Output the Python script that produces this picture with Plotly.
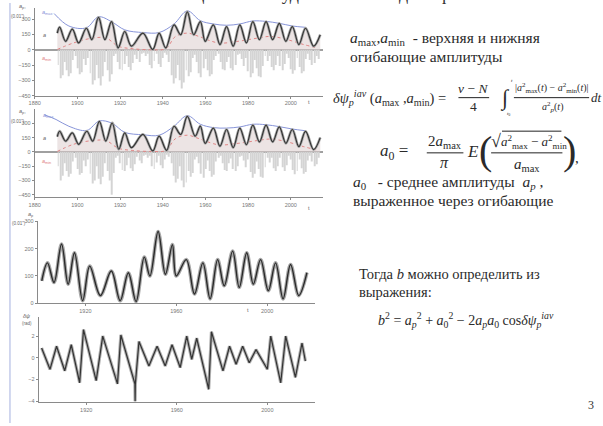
import plotly.graph_objects as go

W, H = 603, 426
def PX(x): return x / W
def PY(y): return 1 - y / H

# ---------------- DATA ----------------
# Panel 1: amplitude a_p (0.01'' ms) with envelopes
p1_years = [1890.6, 1891.7, 1894.5, 1897.6, 1900.6, 1904.2, 1906.8, 1909.9, 1912.9, 1916.0,
            1919.1, 1922.2, 1925.3, 1930.7, 1935.3, 1938.3, 1941.4, 1945.3, 1948.4, 1951.5,
            1954.5, 1957.6, 1959.9, 1963.7, 1966.8, 1969.9, 1973.0, 1976.1, 1979.2, 1982.2,
            1985.3, 1988.4, 1991.5, 1994.6, 1997.7, 2000.7, 2003.8, 2006.9, 2010.7, 2013.8]
p1_amp = [163, 221, 83, 202, 67, 211, 99, 317, 99, 275,
          19, 179, 35, 163, 3, 163, 19, 243, 147, 371,
          147, 275, 83, 243, 51, 227, 35, 243, 67, 275,
          99, 275, 99, 259, 83, 227, 51, 211, 35, 147]
p1_max_years = [1889.1, 1896.0, 1904.2, 1909.9, 1916.0, 1922.2, 1930.7, 1938.3, 1945.3, 1951.5,
                1957.6, 1963.7, 1969.9, 1976.1, 1982.2, 1988.4, 1994.6, 2000.7, 2006.9]
p1_max = [355, 233, 215, 323, 275, 195, 169, 169, 253, 381,
          285, 253, 240, 253, 282, 278, 259, 233, 220]
p1_min_years = [1890.6, 1898.2, 1907.4, 1913.5, 1919.1, 1926.0, 1935.3, 1941.4, 1946.0, 1951.5,
                1956.9, 1966.1, 1975.3, 1984.6, 1990.7, 1998.4, 2006.1, 2012.3]
p1_min = [3, 67, 115, 115, 35, 10, 0, 10, 131, 163,
          131, 67, 83, 115, 131, 99, 51, 19]
raw_years = list(range(1891, 2014))
p1_raw = [-150, -280, -250, -120, -200, -260, -230, -100, -60, -180,
          -240, -220, -90, -150, -80, -230, -340, -300, -150, -280,
          -350, -260, -120, -200, -310, -240, -60, -40, -120, -190,
          -200, -140, -60, -170, -200, -130, -50, -90, -120, -40,
          -30, -60, -40, -150, -180, -110, -40, -140, -170, -80,
          -30, -50, -120, -250, -330, -280, -150, -300, -380, -320,
          -200, -260, -220, -80, -50, -120, -230, -270, -180, -90,
          -200, -260, -240, -100, -60, -40, -120, -190, -200, -120,
          -70, -180, -200, -150, -50, -40, -90, -160, -80, -210,
          -270, -230, -100, -180, -260, -270, -160, -60, -110, -60,
          -170, -200, -150, -60, -160, -200, -140, -40, -80, -190,
          -235, -200, -80, -170, -230, -210, -90, -40, -100, -150,
          -130, -60, -90]

# Panel 2: same quantity, second estimate
p2_years = [1890.6, 1891.7, 1894.5, 1897.6, 1900.6, 1904.4, 1907.2, 1910.3, 1913.3, 1916.3,
            1919.4, 1922.2, 1925.3, 1930.7, 1935.3, 1938.3, 1941.8, 1945.3, 1948.4, 1951.5,
            1955.2, 1957.6, 1959.9, 1963.7, 1966.8, 1969.9, 1973.0, 1976.1, 1979.2, 1982.2,
            1985.3, 1988.4, 1991.5, 1994.6, 1997.7, 2000.7, 2003.8, 2006.9, 2010.7, 2013.8]
p2_amp = [160, 217, 114, 200, 80, 217, 114, 320, 114, 303,
          28, 200, 45, 183, 10, 165, 17, 269, 183, 372,
          165, 270, 90, 250, 60, 235, 45, 250, 75, 280,
          105, 280, 105, 262, 90, 235, 55, 215, 25, 150]
p2_max_years = [1884.5, 1890.0, 1896.0, 1904.4, 1910.3, 1916.3, 1922.2, 1930.7, 1938.3, 1945.3,
                1951.5, 1957.6, 1963.7, 1969.9, 1976.1, 1982.2, 1988.4, 1994.6, 2000.7, 2006.9]
p2_max = [390, 340, 269, 225, 325, 300, 205, 180, 175, 270,
          380, 290, 255, 250, 262, 290, 285, 265, 240, 222]
p2_min_years = [1890.6, 1898.2, 1907.4, 1913.5, 1919.1, 1926.0, 1935.3, 1941.4, 1946.0, 1951.5,
                1956.9, 1966.1, 1975.3, 1984.6, 1990.7, 1998.4, 2006.1, 2012.3]
p2_min = [5, 80, 120, 118, 40, 15, 5, 15, 140, 175,
          140, 75, 90, 120, 135, 105, 55, 20]
p2_raw = [-150, -300, -250, -120, -200, -260, -230, -100, -60, -180,
          -240, -220, -90, -150, -80, -230, -330, -300, -150, -280,
          -340, -260, -120, -200, -300, -450, -220, -60, -40, -120,
          -190, -200, -140, -60, -170, -200, -130, -50, -90, -120,
          -40, -30, -60, -40, -150, -180, -110, -40, -140, -170,
          -80, -30, -50, -120, -250, -320, -280, -150, -300, -370,
          -320, -200, -260, -220, -80, -50, -120, -230, -270, -180,
          -90, -200, -260, -240, -100, -60, -40, -120, -190, -200,
          -120, -70, -180, -200, -150, -50, -40, -90, -160, -80,
          -210, -270, -230, -100, -180, -260, -270, -160, -60, -110,
          -60, -170, -200, -150, -60, -160, -200, -140, -40, -80,
          -190, -235, -200, -80, -170, -230, -210, -90, -40, -100,
          -150, -130, -60]

# Panel 3: amplitude (0.01'')
p3_years = [1900.8, 1903.3, 1906.2, 1909.5, 1912.4, 1915.2, 1918.8, 1921.9, 1926.6, 1931.4,
            1935.3, 1938.9, 1942.3, 1945.9, 1948.4, 1952.0, 1955.2, 1958.3, 1960.0, 1964.4,
            1968.0, 1971.7, 1974.9, 1978.2, 1981.1, 1984.8, 1987.7, 1991.0, 1993.9, 1997.1,
            2000.5, 2003.7, 2007.0, 2010.3, 2013.9, 2017.5]
p3_amp = [82, 148, 76, 217, 70, 185, 9, 136, 28, 118,
          9, 112, 6, 169, 100, 263, 106, 215, 100, 160,
          34, 148, 16, 160, 64, 191, 58, 185, 70, 160,
          46, 148, 16, 142, 28, 112]

# Panel 4: phase δψ (rad)
p4_years = [1900.3, 1904.0, 1906.9, 1910.5, 1913.4, 1917.1, 1918.8, 1924.4, 1927.3, 1933.8,
            1935.3, 1941.5, 1941.6, 1941.7, 1943.3, 1947.7, 1951.3, 1954.9, 1957.9, 1961.5,
            1964.4, 1966.6, 1968.8, 1974.1, 1975.3, 1980.4, 1983.3, 1986.2, 1989.1, 1992.0,
            1995.0, 2000.0, 2001.5, 2005.9, 2008.1, 2012.4, 2015.3, 2016.8]
p4_phase = [0.9, -1.06, 1.06, -1.2, 1.2, -2.3, 2.6, -2.1, 2.0, -2.4,
            2.1, -2.4, -4.0, -2.4, 1.5, -0.75, 1.06, -0.75, 1.2, -0.9,
            2.0, -0.15, 1.8, -2.9, 2.4, -1.2, 1.06, -0.6, 1.06, -0.45,
            0.75, -1.06, 2.0, -2.3, 2.0, -1.8, 1.36, -0.3]

ticks_top = [1880, 1900, 1920, 1940, 1960, 1980, 2000]
ticks_bottom = [1920, 1960, 2000]
ticks_amp = [-450, -300, -150, 0, 150, 300]
ticks_p3 = [0, 100, 200, 300]
ticks_p4 = [-4, -2, 0, 2, 4]

# ---------------- FIGURE ----------------
fig = go.Figure()
GREY_BAR = "#d4d4d4"
FILL = "rgba(220,206,206,0.55)"
CURVE = "#333333"
BLUE = "#8794d8"
RED = "#e08585"

for xa, ya, yrs, amp, myrs, mx, nyrs, mn, raw in [
        ("x", "y", p1_years, p1_amp, p1_max_years, p1_max, p1_min_years, p1_min, p1_raw),
        ("x2", "y2", p2_years, p2_amp, p2_max_years, p2_max, p2_min_years, p2_min, p2_raw)]:
    fig.add_trace(go.Bar(x=raw_years, y=raw, width=0.45, marker_color=GREY_BAR,
                         marker_line_width=0, xaxis=xa, yaxis=ya))
    fig.add_trace(go.Scatter(x=yrs, y=amp, mode="lines", line=dict(width=0, shape="spline"),
                             fill="tozeroy", fillcolor=FILL, xaxis=xa, yaxis=ya))
    fig.add_trace(go.Scatter(x=nyrs, y=mn, mode="lines",
                             line=dict(color=RED, width=1, dash="dot", shape="spline"),
                             xaxis=xa, yaxis=ya))
    fig.add_trace(go.Scatter(x=myrs, y=mx, mode="lines",
                             line=dict(color=BLUE, width=1, shape="spline"),
                             xaxis=xa, yaxis=ya))
    fig.add_trace(go.Scatter(x=yrs, y=amp, mode="lines",
                             line=dict(color="#aaaaaa", width=2.8, shape="spline"),
                             xaxis=xa, yaxis=ya))
    fig.add_trace(go.Scatter(x=yrs, y=amp, mode="lines",
                             line=dict(color=CURVE, width=1.2, shape="spline"),
                             xaxis=xa, yaxis=ya))

fig.add_trace(go.Scatter(x=p3_years, y=p3_amp, mode="lines",
                         line=dict(color="#a8a8a8", width=3.6, shape="spline"),
                         xaxis="x3", yaxis="y3"))
fig.add_trace(go.Scatter(x=p3_years, y=p3_amp, mode="lines",
                         line=dict(color="#2a2a2a", width=1.4, shape="spline"),
                         xaxis="x3", yaxis="y3"))
fig.add_trace(go.Scatter(x=p4_years, y=p4_phase, mode="lines",
                         line=dict(color="#b0b0b0", width=3.2),
                         xaxis="x4", yaxis="y4"))
fig.add_trace(go.Scatter(x=p4_years, y=p4_phase, mode="lines",
                         line=dict(color="#333333", width=1.2),
                         xaxis="x4", yaxis="y4"))

TICKFONT = dict(family="Liberation Sans", size=5.5, color="#777")
def xax(dom, rng, tv, anchor):
    return dict(domain=[PX(dom[0]), PX(dom[1])], range=rng, tickvals=tv, anchor=anchor,
                showline=True, linecolor="#8a8a8a", linewidth=1, ticks="outside", ticklen=2,
                tickcolor="#8a8a8a", tickfont=TICKFONT, showgrid=False, zeroline=False)
def yax(dom, rng, tv, anchor, zl=False):
    return dict(domain=[PY(dom[0]), PY(dom[1])], range=rng, tickvals=tv, anchor=anchor,
                showline=True, linecolor="#8a8a8a", linewidth=1, ticks="outside", ticklen=2,
                tickcolor="#8a8a8a", tickfont=TICKFONT, showgrid=False,
                zeroline=zl, zerolinecolor="#a0a0a0", zerolinewidth=2)

fig.update_layout(
    width=W, height=H, margin=dict(l=0, r=0, t=0, b=0),
    paper_bgcolor="white", plot_bgcolor="rgba(0,0,0,0)",
    showlegend=False, barmode="overlay",
    xaxis=xax((29, 320), [1880, 2015], ticks_top, "y"),
    yaxis=yax((94, 5), [-450, 410], ticks_amp, "x", zl=True),
    xaxis2=xax((29, 320), [1880, 2015], ticks_top, "y2"),
    yaxis2=yax((197, 108), [-475, 445], ticks_amp, "x2", zl=True),
    xaxis3=xax((32, 312), [1899, 2021], ticks_bottom, "y3"),
    yaxis3=yax((304.5, 221), [0, 302], ticks_p3, "x3"),
    xaxis4=xax((33, 312), [1899, 2021], ticks_bottom, "y4"),
    yaxis4=yax((405, 318), [-4.1, 3.8], ticks_p4, "x4"),
)

SERIF = "Liberation Serif, Times New Roman, DejaVu Serif, serif"
SMALL = "Liberation Sans"
anns = []
def txt(x, y, s, size=15.5, color="#2a2a2a", xa="left", fam=SERIF, ya="middle"):
    anns.append(dict(x=PX(x), y=PY(y), xref="paper", yref="paper", text=s, showarrow=False,
                     xanchor=xa, yanchor=ya, font=dict(family=fam, size=size, color=color)))

# cut-off slide title at the very top (only its lowest edge is visible)
txt(300, -9, "Огибающие амплитуды полюса и сдвиг фазы", 18, "#333", xa="center")

# panel labels
txt(11, 4, "<i>a</i><sub>p</sub>,", 5.5, "#666", fam=SMALL)
txt(3, 14, "(0.01\")", 4.5, "#666", fam=SMALL)
txt(34, 10, "<i>a</i><sub>max</sub>", 5.5, BLUE, fam=SMALL)
txt(35, 32, "<i>a</i>", 5.5, "#666", fam=SMALL)
txt(34, 56, "<i>a</i><sub>min</sub>", 5.5, RED, fam=SMALL)
txt(303, 100, "t", 5.5, "#666", fam=SMALL)
txt(11, 110, "<i>a</i><sub>p</sub>,", 5.5, "#666", fam=SMALL)
txt(3, 120, "(0.01\")", 4.5, "#666", fam=SMALL)
txt(35, 114, "<i>a</i><sub>max</sub>", 5.5, BLUE, fam=SMALL)
txt(35, 137, "<i>a</i>", 5.5, "#666", fam=SMALL)
txt(34, 161, "<i>a</i><sub>min</sub>", 5.5, RED, fam=SMALL)
txt(303, 208, "t", 5.5, "#666", fam=SMALL)
txt(20, 215, "<i>a</i><sub>p</sub>", 5.5, "#666", fam=SMALL)
txt(4, 224, "(0.01\")", 4.5, "#666", fam=SMALL)
txt(241, 311, "t", 5.5, "#666", fam=SMALL)
txt(15, 317, "<i>δψ</i>", 5.5, "#666", fam=SMALL)
txt(14, 325, "(rad)", 4.5, "#666", fam=SMALL)

# right-hand text
txt(345, 36, "<i>a</i><sub>max</sub>,<i>a</i><sub>min</sub>  - верхняя и нижняя")
txt(345, 54, "огибающие амплитуды")
txt(328, 96, "<i>δψ</i><sub><i>p</i></sub><sup><i>iav</i></sup> (<i>a</i><sub>max</sub> ,<i>a</i><sub>min</sub>) =", 14.5)
txt(472, 87, "<i>ν</i> − <i>N</i>", 13.5, xa="center")
txt(472, 105, "4", 13.5, xa="center")
txt(497, 96, "∫", 22)
txt(508, 79, "<i>t</i>", 5)
txt(504, 113, "<i>t</i><sub>0</sub>", 5)
txt(551, 86, "|<i>a</i><sup>2</sup><sub>max</sub>(<i>t</i>) − <i>a</i><sup>2</sup><sub>min</sub>(<i>t</i>)|", 10, xa="center")
txt(552, 105, "<i>a</i><sup>2</sup><sub><i>p</i></sub>(<i>t</i>)", 10, xa="center")
txt(589, 96, "<i>dt</i>", 13)

txt(376, 151, "<i>a</i><sub>0</sub> =", 17)
txt(443, 141, "2<i>a</i><sub>max</sub>", 15, xa="center")
txt(443, 162, "<i>π</i>", 16, xa="center")
txt(464, 151, "<i>E</i>", 17)
txt(476, 150, "(", 40)
txt(561, 150, ")", 40)
txt(488, 140, "√", 18)
txt(533, 141, "<i>a</i><sup>2</sup><sub>max</sub> − <i>a</i><sup>2</sup><sub>min</sub>", 13, xa="center")
txt(526, 164, "<i>a</i><sub>max</sub>", 15, xa="center")
txt(573, 157, ",", 15)

txt(348, 182, "<i>a</i><sub>0</sub>   - среднее амплитуды  <i>a</i><sub><i>p</i></sub> ,")
txt(348, 200, "выраженное через огибающие")
txt(355, 275, "Тогда <i>b</i> можно определить из", 14.5)
txt(355, 293, "выражения:", 14.5)
txt(374, 322, "<i>b</i><sup>2</sup> = <i>a</i><sub><i>p</i></sub><sup>2</sup> + <i>a</i><sub>0</sub><sup>2</sup> − 2<i>a</i><sub><i>p</i></sub><i>a</i><sub>0</sub> cos<i>δψ</i><sub><i>p</i></sub><sup><i>iav</i></sup>", 14)
txt(586, 408, "3", 12, "#333")

fig.update_layout(annotations=anns)

shapes = [
    dict(type="line", xref="paper", yref="paper", x0=PX(4), x1=PX(4), y0=0, y1=1,
         line=dict(color="#c3cbea", width=1.5)),
    dict(type="line", xref="paper", yref="paper", x0=PX(457), x1=PX(488), y0=PY(96), y1=PY(96),
         line=dict(color="#222", width=1)),
    dict(type="line", xref="paper", yref="paper", x0=PX(513), x1=PX(589), y0=PY(96), y1=PY(96),
         line=dict(color="#222", width=1)),
    dict(type="line", xref="paper", yref="paper", x0=PX(425), x1=PX(462), y0=PY(152), y1=PY(152),
         line=dict(color="#222", width=1)),
    dict(type="line", xref="paper", yref="paper", x0=PX(490), x1=PX(562), y0=PY(152), y1=PY(152),
         line=dict(color="#222", width=1)),
    dict(type="line", xref="paper", yref="paper", x0=PX(501), x1=PX(561), y0=PY(130), y1=PY(130),
         line=dict(color="#222", width=1)),
]
fig.update_layout(shapes=shapes)

fig.write_html("out.html")
